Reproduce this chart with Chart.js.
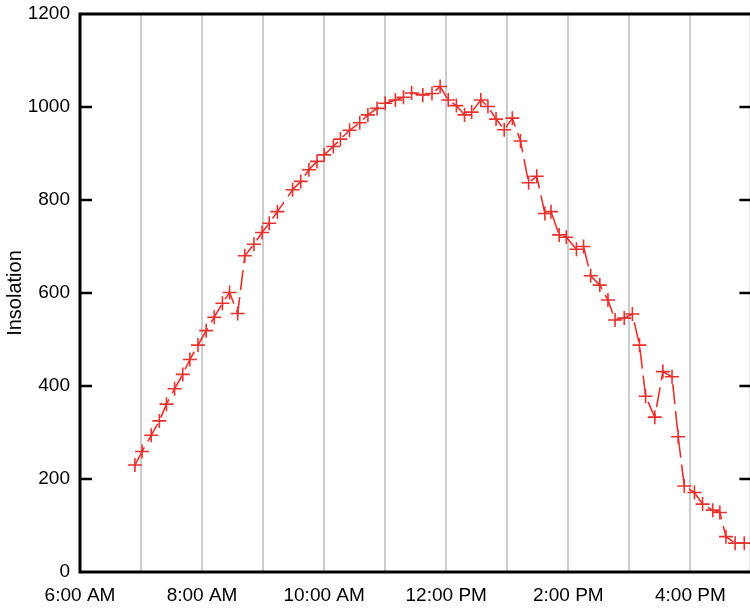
<!DOCTYPE html>
<html>
<head>
<meta charset="utf-8">
<script src="https://cdn.jsdelivr.net/npm/chart.js@4"></script>
<style>
  html, body { margin: 0; padding: 0; background: #fff; overflow: hidden; }
  #wrap { width: 760px; height: 610px; }
</style>
</head>
<body>
<div id="wrap"><canvas id="grafico" width="760" height="610"></canvas></div>
<script>
// Horários das leituras e valores de insolação
const horarios = [
  "6:54", "7:01", "7:10", "7:18", "7:25", "7:33", "7:41", "7:48", "7:56", "8:04",
  "8:12", "8:20", "8:27", "8:35", "8:42", "8:51", "8:59", "9:06", "9:14", "9:29",
  "9:37", "9:45", "9:53", "10:00", "10:09", "10:16", "10:25", "10:35", "10:43", "10:52",
  "11:00", "11:10", "11:18", "11:26", "11:37", "11:46", "11:54", "12:02", "12:10", "12:18",
  "12:25", "12:34", "12:41", "12:49", "12:57", "13:05", "13:13", "13:21", "13:29", "13:37",
  "13:43", "13:51", "13:58", "14:08", "14:15", "14:22", "14:31", "14:39", "14:46", "14:55",
  "15:03", "15:10", "15:16", "15:25", "15:33", "15:42", "15:48", "15:54", "16:04", "16:12",
  "16:22", "16:29", "16:35", "16:44", "16:53"
];
const insolacao = [
  230, 259, 294, 325, 361, 394, 425, 457, 488, 519,
  548, 578, 601, 556, 680, 705, 730, 750, 775, 822,
  840, 865, 883, 897, 915, 931, 950, 966, 983, 997,
  1008, 1015, 1021, 1030, 1026, 1029, 1044, 1015, 1003, 983,
  989, 1015, 1001, 974, 951, 976, 927, 837, 851, 771,
  775, 725, 720, 694, 700, 637, 617, 585, 542, 546,
  555, 488, 378, 333, 431, 420, 291, 185, 171, 146,
  133, 128, 76, 62, 62
];
const ticksY = [0, 200, 400, 600, 800, 1000, 1200];

const corLinha = "#e8302c";
const fonte = "'Liberation Sans', Arial, sans-serif";

function paraHoras(h) {
  const [hh, mm] = h.split(":").map(Number);
  return hh + mm / 60;
}

function formatarHora(v) {
  if (v % 2 !== 0) return "";
  const h12 = v % 12 || 12;
  return `${h12}:00 ${v < 12 ? "AM" : "PM"}`;
}

const pontos = horarios.map((h, i) => ({ x: paraHoras(h), y: insolacao[i] }));

// Moldura preta e marcas internas do eixo Y
const moldura = {
  id: "moldura",
  afterDraw(chart) {
    const { ctx, chartArea: a, scales } = chart;
    ctx.save();
    ctx.strokeStyle = "#000";
    ctx.lineWidth = 2.5;
    ticksY.slice(1, -1).forEach((v) => {
      const y = scales.y.getPixelForValue(v);
      ctx.beginPath();
      ctx.moveTo(a.left, y);
      ctx.lineTo(a.left + 12, y);
      ctx.moveTo(a.right, y);
      ctx.lineTo(a.right - 12, y);
      ctx.stroke();
    });
    ctx.lineWidth = 3;
    ctx.strokeRect(a.left, a.top, a.right - a.left, a.bottom - a.top);
    ctx.restore();
  },
};

new Chart(document.getElementById("grafico"), {
  type: "line",
  data: {
    datasets: [
      {
        data: pontos,
        borderColor: corLinha,
        borderWidth: 1.6,
        borderDash: [20, 7],
        pointStyle: "cross",
        pointRadius: 7,
        pointBorderWidth: 1.6,
        pointBorderColor: corLinha,
        pointBackgroundColor: corLinha,
        tension: 0,
        fill: false,
      },
    ],
  },
  options: {
    responsive: false,
    animation: false,
    devicePixelRatio: 1,
    layout: { padding: { top: 14, right: 6, left: 0, bottom: 0 } },
    plugins: { legend: { display: false }, tooltip: { enabled: false } },
    scales: {
      x: {
        type: "linear",
        min: 6,
        max: 17,
        afterFit: (s) => {
          s.height = 38;
          s.paddingLeft = 0;
          s.paddingRight = 0;
        },
        border: { display: false },
        grid: { color: "#cccccc", lineWidth: 2, drawTicks: false },
        ticks: {
          stepSize: 1,
          autoSkip: false,
          maxRotation: 0,
          padding: 12,
          color: "#000",
          font: { family: fonte, size: 19 },
          callback: (v) => formatarHora(v),
        },
      },
      y: {
        min: 0,
        max: 1200,
        afterFit: (s) => {
          s.width = 80;
          s.paddingTop = 0;
          s.paddingBottom = 0;
        },
        afterBuildTicks: (s) => { s.ticks = ticksY.map((v) => ({ value: v })); },
        border: { display: false },
        grid: { display: false, drawTicks: false },
        ticks: {
          padding: 10,
          color: "#000",
          font: { family: fonte, size: 19 },
          callback: (v) => String(v),
        },
        title: {
          display: true,
          text: "Insolation",
          color: "#000",
          font: { family: fonte, size: 20 },
          padding: { top: 3, bottom: 0 },
        },
      },
    },
  },
  plugins: [moldura],
});
</script>
</body>
</html>
